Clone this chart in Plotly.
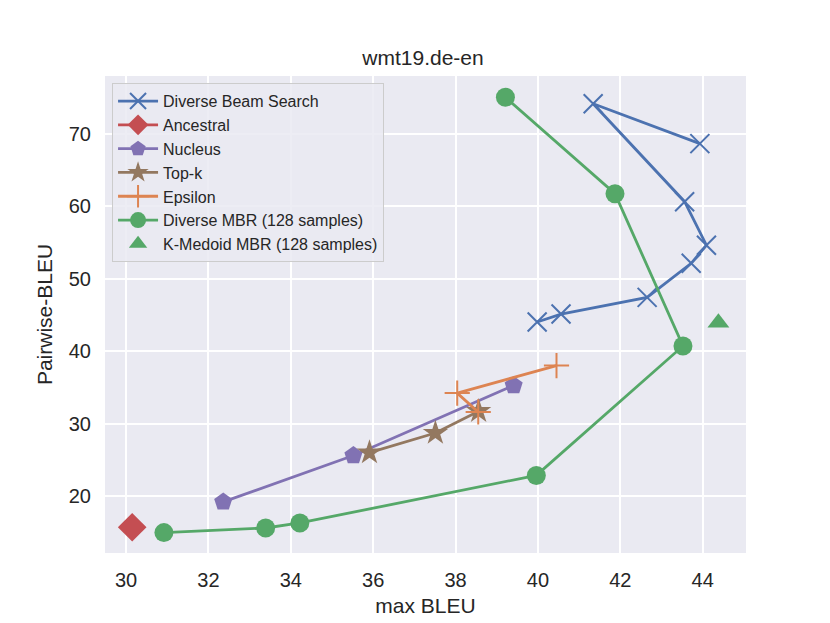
import plotly.graph_objects as go

# values (max BLEU, Pairwise-BLEU)
dbs_x = [43.93, 41.34, 43.56, 44.09, 43.72, 42.65, 40.56, 39.98]
dbs_y = [68.6, 74.1, 60.6, 54.6, 52.1, 47.4, 45.1, 44.0]

ancestral_x = [30.15]
ancestral_y = [15.7]

nucleus_x = [32.36, 35.52, 39.41]
nucleus_y = [19.2, 25.6, 35.25]

topk_x = [35.91, 37.51, 38.56]
topk_y = [26.0, 28.7, 31.7]

epsilon_x = [38.55, 38.04, 40.45]
epsilon_y = [31.6, 34.2, 38.0]

dmbr_x = [39.21, 41.87, 43.52, 39.96, 34.22, 33.39, 30.92]
dmbr_y = [75.0, 61.7, 40.7, 22.85, 16.3, 15.6, 14.96]

kmedoid_x = [44.38]
kmedoid_y = [43.9]

x_ticks = [30, 32, 34, 36, 38, 40, 42, 44]
y_ticks = [20, 30, 40, 50, 60, 70]

# seaborn deep palette
BLUE = "#4C72B0"
ORANGE = "#DD8452"
GREEN = "#55A868"
RED = "#C44E52"
PURPLE = "#8172B3"
BROWN = "#937860"

fig = go.Figure()

def add(xs, ys, name, color, symbol, size, mode="lines+markers", lw=2.8, mlw=0):
    fig.add_trace(go.Scatter(
        x=xs, y=ys, name=name, mode=mode,
        line=dict(color=color, width=lw),
        marker=dict(color=color, symbol=symbol, size=size,
                    line=dict(color=color, width=mlw)),
    ))

add(dbs_x, dbs_y, "Diverse Beam Search", BLUE, "x-thin", 19, mlw=2)
add(ancestral_x, ancestral_y, "Ancestral", RED, "diamond", 22)
add(nucleus_x, nucleus_y, "Nucleus", PURPLE, "pentagon", 19)
add(topk_x, topk_y, "Top-k", BROWN, "star", 19)
add(epsilon_x, epsilon_y, "Epsilon", ORANGE, "cross-thin", 18, mlw=2)
add(dmbr_x, dmbr_y, "Diverse MBR (128 samples)", GREEN, "circle", 19)
add(kmedoid_x, kmedoid_y, "K-Medoid MBR (128 samples)", GREEN, "triangle-up", 19, mode="markers")

# page body adds 8px offset, margins shifted to compensate
fig.update_layout(
    width=830, height=623,
    margin=dict(l=97, r=92, t=68, b=78),
    paper_bgcolor="white",
    plot_bgcolor="#EAEAF2",
    font=dict(family="Liberation Sans, Arial, sans-serif", size=20, color="#262626"),
    title=dict(text="wmt19.de-en", x=0.5, xanchor="center", y=0.921, yanchor="middle",
               font=dict(size=21, color="#262626")),
    legend=dict(
        x=0.011, y=0.985, xanchor="left", yanchor="top",
        bgcolor="rgba(234,234,242,0.85)",
        bordercolor="#CCCCCC", borderwidth=1,
        font=dict(size=16, color="#262626"),
        tracegroupgap=0,
        itemwidth=40,
    ),
    showlegend=True,
)

fig.update_xaxes(
    range=[29.49, 45.05], tickvals=x_ticks, ticktext=[str(v) for v in x_ticks],
    showgrid=True, gridcolor="white", gridwidth=1.5, zeroline=False,
    ticks="outside", ticklen=9, tickcolor="rgba(0,0,0,0)", showline=False,
    tickfont=dict(size=20),
    title=dict(text="max BLEU", font=dict(size=21), standoff=8),
)
fig.update_yaxes(
    range=[12.15, 77.93], tickvals=y_ticks, ticktext=[str(v) for v in y_ticks],
    showgrid=True, gridcolor="white", gridwidth=1.5, zeroline=False,
    ticks="outside", ticklen=9, tickcolor="rgba(0,0,0,0)", showline=False,
    tickfont=dict(size=20),
    title=dict(text="Pairwise-BLEU", font=dict(size=21), standoff=10),
)

fig.write_html("out.html")
